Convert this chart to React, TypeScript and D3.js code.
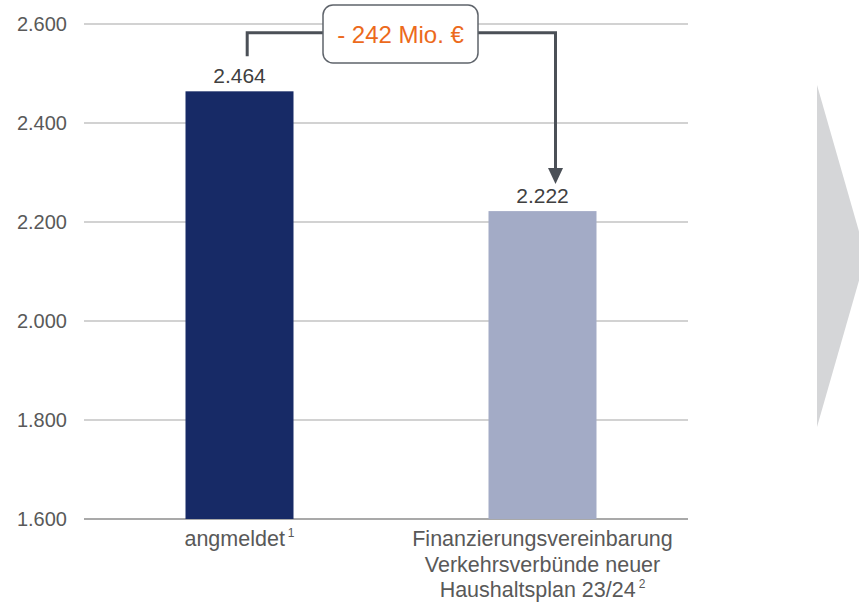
import React from "react";
import * as d3 from "d3";

// Budget figures in Mio. €
const categories = ["angmeldet", "Finanzierungsvereinbarung"];
const values = [2464, 2222];
const valueLabels = ["2.464", "2.222"];
const yTicks = [1600, 1800, 2000, 2200, 2400, 2600];
const categoryLines = [
  [{ text: "angmeldet", sup: "1" }],
  [
    { text: "Finanzierungsvereinbarung", sup: "" },
    { text: "Verkehrsverbünde neuer", sup: "" },
    { text: "Haushaltsplan 23/24", sup: "2" },
  ],
];
const deltaLabel = "- 242 Mio. €";
const barColors = ["#172a66", "#a3abc6"];

const W = 859;
const H = 604;
const FONT = "'Liberation Sans', Arial, sans-serif";

const fmt = (v: number) => d3.format(",")(v).replace(/,/g, ".");

export default function App() {
  const y = d3.scaleLinear().domain([1600, 2600]).range([519, 24]);
  const x = d3.scaleBand<string>().domain(categories).range([88, 694]).padding(0);
  const barW = 108;
  const cx = (c: string) => (x(c) as number) + x.bandwidth() / 2;

  const gridLeft = 84;
  const gridRight = 688;

  const x0 = cx(categories[0]) + 7.7;
  const x1 = cx(categories[1]) + 13;
  const boxL = 323;
  const boxR = 478;
  const boxT = 5;
  const boxB = 63;
  const connY = 32.7;
  const arrowTip = y(values[1]) - 27;

  const leftPath = d3.path();
  leftPath.moveTo(x0, y(values[0]) - 35);
  leftPath.lineTo(x0, connY);
  leftPath.lineTo(boxL, connY);

  const rightPath = d3.path();
  rightPath.moveTo(boxR, connY);
  rightPath.lineTo(x1, connY);
  rightPath.lineTo(x1, arrowTip - 14);

  const head = d3.path();
  head.moveTo(x1 - 7.5, arrowTip - 16);
  head.lineTo(x1 + 7.5, arrowTip - 16);
  head.lineTo(x1, arrowTip);
  head.closePath();

  // big chevron on the right edge
  const chevron = d3.line()([
    [817, 85],
    [866, 256],
    [817, 427],
  ]) + "Z";

  return (
    <svg
      width={W}
      height={H}
      style={{ position: "absolute", left: 0, top: 0, background: "#fff" }}
      fontFamily={FONT}
    >
      <path d={chevron} fill="#d5d6d8" />

      {yTicks.map((t) => (
        <g key={t}>
          <line
            x1={gridLeft}
            x2={gridRight}
            y1={y(t)}
            y2={y(t)}
            stroke={t === 1600 ? "#8c8c8c" : "#a6a6a6"}
            strokeWidth={t === 1600 ? 1.6 : 1.2}
          />
          <text
            x={67}
            y={y(t)}
            dy="0.35em"
            textAnchor="end"
            fontSize={20}
            fill="#595959"
          >
            {fmt(t)}
          </text>
        </g>
      ))}

      {categories.map((c, i) => (
        <g key={c}>
          <rect
            x={cx(c) - barW / 2}
            y={y(values[i])}
            width={barW}
            height={y(1600) - y(values[i])}
            fill={barColors[i]}
          />
          <text
            x={cx(c)}
            y={y(values[i]) - 8}
            textAnchor="middle"
            fontSize={21}
            fill="#404040"
          >
            {valueLabels[i]}
          </text>
          {categoryLines[i].map((ln, j) => (
            <text
              key={j}
              x={cx(c)}
              y={546 + j * 25.5}
              textAnchor="middle"
              fontSize={21.5}
              fill="#595959"
            >
              {ln.text}
              {ln.sup && (
                <tspan fontSize={12} dx={3} dy={-9}>
                  {ln.sup}
                </tspan>
              )}
            </text>
          ))}
        </g>
      ))}

      <path d={leftPath.toString()} fill="none" stroke="#4b5057" strokeWidth={3} />
      <path d={rightPath.toString()} fill="none" stroke="#4b5057" strokeWidth={3} />
      <path d={head.toString()} fill="#4b5057" />

      <rect
        x={boxL}
        y={boxT}
        width={boxR - boxL}
        height={boxB - boxT}
        rx={10}
        fill="#fff"
        stroke="#5f646b"
        strokeWidth={1.5}
      />
      <text
        x={(boxL + boxR) / 2}
        y={(boxT + boxB) / 2 + 1}
        dy="0.35em"
        textAnchor="middle"
        fontSize={24}
        fill="#ec6a1c"
      >
        {deltaLabel}
      </text>
    </svg>
  );
}
